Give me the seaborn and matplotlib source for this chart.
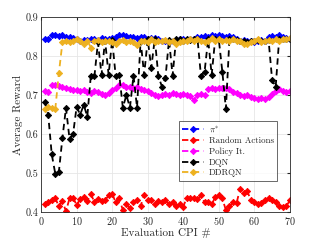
import numpy as np
import pandas as pd
import matplotlib
matplotlib.use("Agg")
import matplotlib.pyplot as plt
import seaborn as sns

episodes = list(range(1, 71))

pi_star = [0.845, 0.843, 0.853, 0.855, 0.852, 0.853, 0.850, 0.848, 0.846, 0.843,
           0.840, 0.842, 0.841, 0.843, 0.845, 0.842, 0.846, 0.845, 0.843, 0.846,
           0.850, 0.853, 0.855, 0.852, 0.850, 0.848, 0.847, 0.850, 0.848, 0.845,
           0.847, 0.846, 0.843, 0.838, 0.840, 0.836, 0.840, 0.842, 0.845, 0.843,
           0.842, 0.845, 0.843, 0.848, 0.850, 0.852, 0.850, 0.853, 0.852, 0.853,
           0.851, 0.850, 0.852, 0.848, 0.845, 0.840, 0.842, 0.838, 0.840, 0.836,
           0.840, 0.842, 0.838, 0.848, 0.852, 0.850, 0.853, 0.848, 0.846, 0.845]

random_actions = [0.422, 0.425, 0.430, 0.435, 0.415, 0.428, 0.402, 0.435, 0.437, 0.418,
                  0.433, 0.438, 0.428, 0.447, 0.425, 0.433, 0.428, 0.430, 0.443, 0.447,
                  0.425, 0.435, 0.405, 0.420, 0.410, 0.425, 0.430, 0.415, 0.445, 0.430,
                  0.432, 0.420, 0.428, 0.425, 0.430, 0.420, 0.425, 0.415, 0.420, 0.414,
                  0.437, 0.435, 0.437, 0.433, 0.443, 0.425, 0.425, 0.420, 0.438, 0.443,
                  0.435, 0.405, 0.415, 0.425, 0.423, 0.460, 0.450, 0.453, 0.432, 0.427,
                  0.420, 0.423, 0.430, 0.435, 0.432, 0.427, 0.415, 0.413, 0.415, 0.430]

policy_it = [0.710, 0.708, 0.725, 0.727, 0.724, 0.720, 0.717, 0.715, 0.713, 0.712,
             0.710, 0.712, 0.708, 0.705, 0.710, 0.708, 0.703, 0.700, 0.705, 0.712,
             0.718, 0.725, 0.727, 0.722, 0.720, 0.718, 0.720, 0.715, 0.713, 0.710,
             0.705, 0.700, 0.698, 0.700, 0.703, 0.700, 0.705, 0.702, 0.700, 0.703,
             0.700, 0.697, 0.687, 0.700, 0.702, 0.700, 0.715, 0.718, 0.716, 0.718,
             0.717, 0.719, 0.716, 0.708, 0.706, 0.700, 0.698, 0.700, 0.696, 0.692,
             0.690, 0.693, 0.690, 0.695, 0.703, 0.710, 0.715, 0.710, 0.708, 0.710]

dqn = [0.683, 0.650, 0.548, 0.498, 0.503, 0.590, 0.667, 0.588, 0.600, 0.670,
       0.650, 0.675, 0.645, 0.750, 0.748, 0.835, 0.752, 0.840, 0.752, 0.842,
       0.748, 0.752, 0.668, 0.700, 0.668, 0.750, 0.668, 0.840, 0.752, 0.843,
       0.770, 0.845, 0.748, 0.722, 0.745, 0.842, 0.750, 0.845, 0.843, 0.840,
       0.845, 0.842, 0.843, 0.845, 0.748, 0.760, 0.843, 0.752, 0.845, 0.843,
       0.760, 0.665, 0.845, 0.843, 0.842, 0.840, 0.838, 0.836, 0.840, 0.838,
       0.842, 0.840, 0.838, 0.842, 0.740, 0.720, 0.845, 0.845, 0.844, 0.845]

ddrqn = [0.665, 0.670, 0.668, 0.665, 0.756, 0.835, 0.838, 0.835, 0.840, 0.845,
         0.838, 0.832, 0.840, 0.822, 0.840, 0.842, 0.835, 0.840, 0.838, 0.835,
         0.832, 0.840, 0.842, 0.836, 0.838, 0.835, 0.828, 0.838, 0.840, 0.835,
         0.843, 0.835, 0.840, 0.838, 0.842, 0.835, 0.840, 0.832, 0.835, 0.838,
         0.840, 0.843, 0.838, 0.845, 0.840, 0.836, 0.838, 0.846, 0.840, 0.844,
         0.838, 0.842, 0.840, 0.843, 0.838, 0.840, 0.832, 0.830, 0.835, 0.838,
         0.845, 0.835, 0.840, 0.842, 0.840, 0.843, 0.838, 0.845, 0.843, 0.846]

labels = [r"$\pi^{*}$", "Random Actions", "Policy It.", "DQN", "DDRQN"]
colors = ["#0000ff", "#ff0000", "#ff00ff", "#000000", "#EDB120"]
series = [pi_star, random_actions, policy_it, dqn, ddrqn]

sns.set_style("whitegrid")
plt.rcParams["font.family"] = ["cmr10"]
plt.rcParams["mathtext.fontset"] = "cm"
plt.rcParams["axes.formatter.use_mathtext"] = True

fig = plt.figure(figsize=(3.21, 2.41), dpi=100)
ax = fig.add_axes([0.128, 0.120, 0.775, 0.809])

for vals, lab, col in zip(series, labels, colors):
    df = pd.DataFrame({"x": episodes, "y": vals})
    sns.lineplot(data=df, x="x", y="y", ax=ax, color=col, label=lab,
                 marker="D", markersize=3.2, markeredgewidth=0.6,
                 markeredgecolor=col, linewidth=1.3, linestyle=(0, (3.5, 2.5)))

ax.set_xlim(0, 70)
ax.set_ylim(0.4, 0.9)
ax.set_xticks(range(0, 71, 10))
ax.set_yticks([0.4, 0.5, 0.6, 0.7, 0.8, 0.9])
ax.set_yticklabels(["0.4", "0.5", "0.6", "0.7", "0.8", "0.9"])
ax.set_xlabel("Evaluation CPI #", fontsize=8, labelpad=1)
ax.set_ylabel("Average Reward", fontsize=8, labelpad=2)
ax.tick_params(axis="both", labelsize=7.3, direction="in", length=2, pad=2,
               colors="#262626", top=True, right=True)
ax.grid(True, color="#e6e6e6", linewidth=0.6)
for s in ax.spines.values():
    s.set_color("#262626")
    s.set_linewidth(0.6)

leg = ax.legend(loc="upper left", bbox_to_anchor=(0.553, 0.468), fontsize=6.4,
                frameon=True, fancybox=False, edgecolor="#262626",
                handlelength=2.4, borderpad=0.4, labelspacing=0.25,
                handletextpad=0.6, borderaxespad=0)
leg.get_frame().set_linewidth(0.6)

fig.savefig("out.png", dpi=100)
